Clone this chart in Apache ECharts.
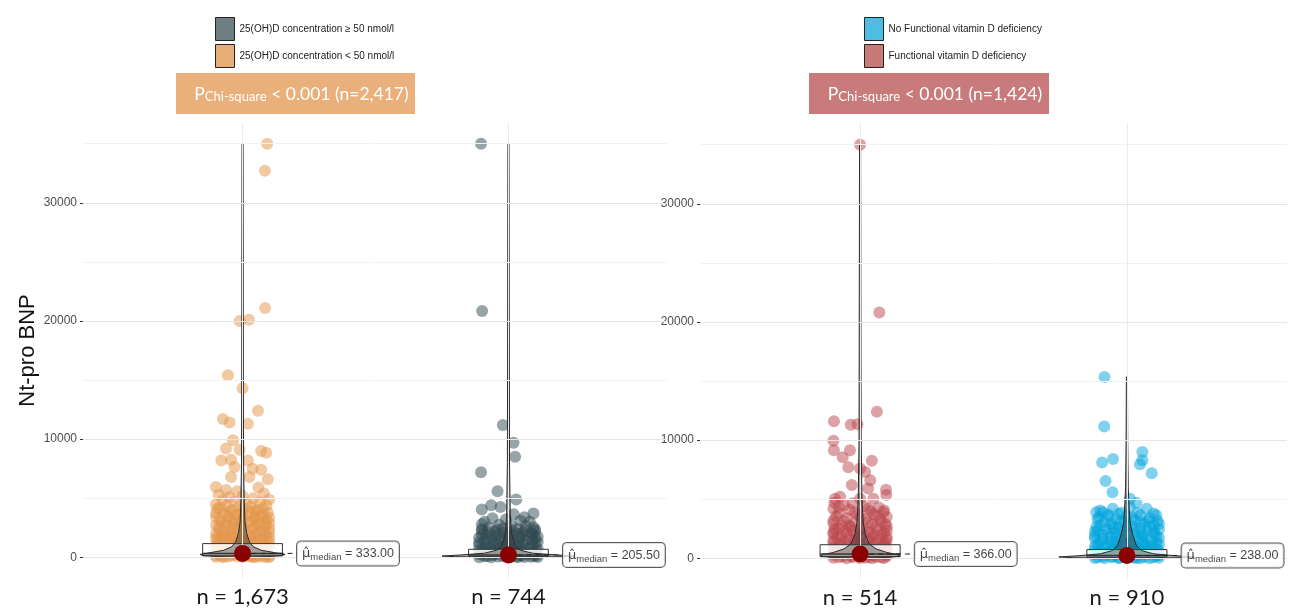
<!DOCTYPE html>
<html><head><meta charset="utf-8">
<script src="https://cdn.jsdelivr.net/npm/echarts@6/dist/echarts.min.js"></script>
<style>html,body{margin:0;padding:0;background:#fff}#c{width:1292px;height:613px}</style>
</head><body><div id="c"></div>
<script>
// ---------------- DATA ----------------
const yTicks = [0, 10000, 20000, 30000];
const yGrid = [0, 5000, 10000, 15000, 20000, 25000, 30000, 35000];
const leftCats = ['n = 1,673', 'n = 744'];
const rightCats = ['n = 514', 'n = 910'];
const leftNames = ['25(OH)D concentration < 50 nmol/l', '25(OH)D concentration \u2265 50 nmol/l'];
const rightNames = ['Functional vitamin D deficiency', 'No Functional vitamin D deficiency'];
const leftP = ['P', 'Chi-square', ' < 0.001 (n=2,417)'];
const rightP = ['P', 'Chi-square', ' < 0.001 (n=1,424)'];

// box stats [Q1, median, Q3, lower whisker, upper whisker]
const boxOrange = [130, 333, 1160, 0, 2700];
const boxGray = [90, 205.5, 680, 0, 1560];
const boxRed = [140, 366, 1150, 0, 2660];
const boxBlue = [100, 238, 740, 0, 1700];

// violin profiles [value, half width (category units)]
const violinOrange = [[0,0.02],[60,0.09],[150,0.15],[250,0.16],[400,0.12],[600,0.07],[900,0.04],[1300,0.026],[2000,0.016],[3000,0.009],[5000,0.006],[8000,0.004],[15000,0.003],[35000,0.002]];
const violinGray = [[0,0.04],[50,0.2],[110,0.25],[200,0.18],[350,0.09],[600,0.045],[1000,0.025],[2000,0.012],[3500,0.007],[8000,0.004],[20000,0.003],[35000,0.002]];
const violinRed = [[0,0.03],[80,0.1],[180,0.15],[300,0.14],[500,0.1],[800,0.06],[1200,0.035],[2000,0.02],[3000,0.012],[5000,0.007],[10000,0.004],[35000,0.002]];
const violinBlue = [[0,0.05],[50,0.2],[120,0.255],[220,0.18],[380,0.1],[650,0.055],[1100,0.035],[2000,0.022],[3000,0.012],[4000,0.009],[6000,0.005],[10000,0.003],[15350,0.002]];

// jittered points [jitter offset, Nt-pro BNP]
const ptsOrange = [
[0.093,35000],[0.084,32700],[0.085,21100],[-0.011,20000],[0.024,20100],[-0.055,15400],[0.0,14300],
[0.058,12400],[-0.074,11700],[-0.049,11400],[0.02,11300],[-0.036,9900],[-0.062,9200],[-0.011,9100],[0.07,9000],[0.089,8850],
[-0.08,8200],[-0.043,8250],[0.02,8200],[-0.03,7650],[0.038,7500],[0.07,7400],[-0.043,6800],[0.026,6800],[0.095,6600],[-0.1,5950],[-0.062,5700],
[0.06,5900],[-0.02,5600],[0.08,5400],[-0.09,5300],[0.0,5200],[-0.05,5100],[0.04,5000],[0.1,4900],[-0.075,4800],[-0.03,4700],[0.065,4650],[0.015,4550],[-0.1,4500],[0.09,4400],
[-0.06,4350],[-0.015,4300],[0.03,4250],[0.075,4150],[-0.095,4100],[-0.04,4000],[0.05,3950],[0.0,3850],[0.095,3800],[-0.07,3700],[-0.025,3600],[0.02,3550],[0.07,3500],[-0.1,3400],[-0.05,3300],[0.045,3250],[0.09,3150],[-0.01,3100],[-0.08,3000],
[0.03,2950],[0.1,2900],[-0.035,2850],[0.06,2800],[-0.1,2700],[-0.065,2650],[0.0,2600],[0.085,2550],[-0.02,2450],[0.04,2400],[-0.085,2350],[-0.045,2250],[0.07,2200],[0.1,2100],[0.015,2050],[-0.1,2000],[-0.055,1950],[0.05,1900],[-0.01,1800],[0.09,1750],[-0.075,1700],[-0.03,1650],[0.03,1600],[0.075,1550],
[-0.095,1450],[-0.05,1400],[0.0,1380],[0.05,1350],[0.1,1300],[-0.07,1200],[-0.025,1150],[0.025,1100],[0.08,1050],[-0.1,950],[-0.045,900],[0.01,850],[0.06,800],[0.095,750],[-0.08,650],[-0.03,600],[0.035,550],[0.075,500],[-0.1,420],[-0.06,380],[-0.01,330],[0.045,300],[0.09,260],[-0.085,200],[-0.04,160],[0.015,130],[0.065,100],[0.1,80],[-0.1,50],[-0.055,40],[0.0,30],[0.05,20],[0.085,10],[-0.075,5],[-0.02,60],[0.03,70],
[-0.085,4200],[0.005,4150],[0.055,4050],[-0.05,3900],[0.035,3800],[-0.1,3750],[0.08,3650],[-0.01,3650],[-0.055,3500],[0.045,3400],[0.1,3350],[-0.085,3250],[0.0,3250],[-0.03,3150],[0.06,3050],[0.02,3000],[-0.06,2900],[0.085,2850],[-0.005,2750],[-0.09,2550],[0.045,2600],[-0.04,2500],[0.1,2450],[0.01,2300],[-0.07,2150],[0.055,2100],[-0.02,2100],[0.085,2000],[-0.09,1850],[0.03,1800],[-0.045,1750],[0.1,1650],[-0.1,1600],[0.0,1550],[0.06,1450],[-0.06,1500],[-0.02,1300],[0.035,1250],[-0.09,1150],[0.075,1150],[-0.05,1050],[0.0,1000],[0.1,950],[-0.07,850],[0.04,700],[-0.01,700],[0.09,600],[-0.1,600],[-0.05,500],[0.01,450],[0.06,400],[-0.03,250],[0.08,180],[0.03,180],[-0.07,100],[-0.1,150],[0.1,20],[0.04,5]
];
const ptsGray = [
[-0.103,35000],[-0.099,20850],[-0.021,11200],[0.019,9700],[0.025,8500],[-0.103,7200],[-0.041,5600],[0.029,4900],[-0.1,4050],[-0.065,4400],[-0.03,4250],[0.094,3700],[0.06,3400],[0.02,3650],[-0.09,3000],[0.094,2550],
[-0.06,3300],[-0.01,3200],[0.045,3100],[0.08,3000],[-0.1,2800],[-0.035,2750],[0.01,2700],[0.065,2650],[-0.075,2500],[-0.02,2450],[0.035,2400],[0.1,2350],[-0.1,2250],[-0.05,2200],[0.0,2150],[0.055,2100],[0.085,2050],
[-0.085,1950],[-0.04,1900],[0.02,1850],[0.07,1800],[0.11,1750],[-0.11,1650],[-0.065,1600],[-0.015,1550],[0.04,1500],[0.09,1450],[-0.09,1350],[-0.045,1300],[0.005,1250],[0.055,1200],[0.1,1150],[-0.11,1050],[-0.07,1000],[-0.02,950],[0.03,900],[0.08,850],[-0.095,750],[-0.05,700],[0.0,650],[0.05,600],[0.105,550],[-0.08,450],[-0.03,400],[0.025,350],[0.075,300],[-0.11,250],[-0.06,200],[-0.01,180],[0.045,150],[0.095,120],[-0.09,80],[-0.04,60],[0.01,40],[0.06,30],[0.11,20],[-0.11,10],[-0.065,5],[0.035,15],[0.085,50],
[-0.1,2400],[-0.04,2350],[0.015,2300],[0.06,2250],[0.1,2200],[-0.075,2100],[-0.015,2050],[0.035,2000],[0.09,1950],[-0.1,1900],[-0.05,1800],[0.0,1750],[0.045,1700],[0.1,1650],[-0.08,1550],[-0.03,1450],[0.02,1400],[0.065,1350],[0.11,1300],[-0.11,1250],[-0.055,1200],[-0.005,1100],[0.04,1050],[0.09,1000],[-0.085,900],[-0.035,850],[0.015,800],[0.06,750],[0.11,700],[-0.11,600],[-0.065,550],[-0.015,500],[0.035,450],[0.085,400],[-0.095,350],[-0.045,300],[0.005,250],[0.055,200],[0.105,150],[-0.02,100],[0.03,80],[-0.08,120]
];
const ptsRed = [
[0.0,35000],[0.072,20800],[0.063,12400],[-0.098,11600],[-0.035,11300],[-0.01,11350],[-0.1,9950],[-0.098,9150],[-0.038,9150],[-0.065,8550],[0.044,8250],[-0.044,7700],[0.0,7600],[0.019,7300],[0.038,6600],[-0.031,6200],[0.097,5800],[0.098,5350],[0.03,5900],[-0.094,5050],[-0.075,5200],[0.0,5050],[0.05,5050],[-0.096,4700],[-0.028,4650],[0.088,3900],
[-0.06,4500],[0.015,4400],[0.07,4300],[-0.1,4200],[-0.04,4100],[0.04,4000],[-0.08,3800],[-0.01,3700],[0.06,3600],[0.1,3500],[-0.05,3400],[0.02,3300],[-0.1,3200],[0.08,3100],[-0.02,3000],[0.045,2900],[-0.07,2800],[0.1,2700],[-0.035,2650],[0.01,2550],
[-0.095,2450],[0.065,2400],[-0.055,2300],[0.03,2250],[0.09,2150],[-0.1,2050],[-0.015,2000],[0.05,1950],[-0.07,1850],[0.1,1800],[0.0,1750],[-0.04,1650],[0.07,1600],[-0.1,1500],[0.03,1450],[-0.02,1350],[0.095,1300],[-0.075,1250],[0.05,1200],[-0.045,1100],[0.0,1050],[0.08,1000],[-0.1,900],[0.025,850],[-0.06,800],[0.1,750],[-0.02,700],[0.055,650],[-0.085,550],[0.015,500],[0.085,450],[-0.04,400],[0.04,350],[-0.1,300],[-0.005,250],[0.1,200],[-0.065,150],[0.06,120],[-0.03,90],[0.02,60],[-0.1,40],[0.09,30],[-0.05,15],[0.045,10],[0.0,5],
[-0.08,4350],[0.03,4200],[0.09,4050],[-0.02,3900],[0.05,3750],[-0.09,3550],[0.0,3450],[0.075,3300],[-0.06,3150],[0.03,3050],[-0.1,2950],[0.095,2900],[-0.04,2750],[0.06,2650],[-0.08,2550],[0.0,2450],[0.1,2350],[-0.03,2350],[-0.1,2200],[0.04,2150],[-0.05,2050],[0.08,1950],[0.0,1900],[-0.085,1750],[0.035,1700],[-0.02,1600],[0.1,1550],[-0.06,1450],[0.06,1400],[-0.1,1300],[0.0,1250],[0.09,1150],[-0.07,1050],[0.04,1050],[-0.02,950],[0.1,900],[-0.09,750],[0.02,700],[0.07,550],[-0.05,600],[-0.1,450],[0.0,400],[0.1,350],[-0.03,200],[0.05,250],[-0.08,80],[0.08,60],[0.03,100]
];
const ptsBlue = [
[-0.084,15350],[-0.085,11150],[0.058,9000],[-0.052,8400],[-0.093,8100],[0.049,7950],[0.058,8300],[0.093,7200],[-0.08,6550],[-0.054,5600],[0.011,5050],[0.011,4350],[-0.1,4050],[-0.053,4200],[0.074,4200],[0.035,4700],
[-0.115,3900],[-0.02,3850],[0.1,3800],[-0.07,3700],[0.05,3650],[0.0,3550],[-0.105,3450],[0.085,3400],[-0.04,3300],[0.03,3250],[0.115,3150],[-0.085,3050],[-0.01,3000],[0.065,2950],[-0.055,2850],[0.1,2800],[0.02,2700],[-0.115,2650],[-0.03,2600],[0.05,2550],
[0.12,2450],[-0.08,2450],[-0.01,2400],[0.075,2350],[-0.12,2250],[-0.045,2200],[0.03,2150],[0.105,2100],[-0.09,2000],[0.0,1950],[0.06,1900],[-0.06,1800],[0.12,1750],[-0.12,1700],[-0.02,1650],[0.045,1600],[0.09,1500],[-0.1,1450],[-0.04,1400],[0.02,1350],[0.11,1300],[-0.075,1200],[0.065,1150],[-0.01,1100],[-0.12,1000],[0.035,1000],[0.1,950],[-0.055,900],[0.0,800],[0.075,750],[-0.1,700],[-0.03,650],[0.05,600],[0.12,550],[-0.08,500],[0.015,450],[0.09,400],[-0.12,350],[-0.045,300],[0.04,260],[0.11,220],[-0.09,180],[-0.01,150],[0.065,120],[-0.06,90],[0.025,60],[0.12,40],[-0.12,30],[-0.03,20],[0.085,10],[-0.085,5],[0.05,15],
[-0.09,3900],[0.04,3850],[-0.03,3750],[0.11,3650],[-0.07,3550],[0.02,3450],[-0.11,3300],[0.08,3200],[-0.02,3150],[0.05,3050],[-0.06,2950],[0.12,2900],[-0.1,2800],[0.0,2750],[0.085,2650],[-0.05,2550],[0.03,2450],[-0.11,2350],[0.1,2250],[-0.025,2250],[0.055,2050],[-0.07,2100],[-0.12,1900],[0.03,1850],[0.11,1850],[-0.04,1750],[0.07,1700],[-0.09,1600],[0.0,1550],[-0.06,1350],[0.06,1350],[0.12,1200],[-0.11,1150],[-0.03,1200],[0.02,1100],[0.08,1050],[-0.08,1000],[-0.035,800],[0.045,850],[0.115,750],[-0.12,700],[0.02,650],[-0.06,600],[0.08,550],[-0.1,450],[-0.015,350],[0.06,350],[0.12,250],[-0.08,300],[0.01,200],[-0.05,150],[0.1,100],[-0.11,100],[0.035,30],[-0.03,50]
];

// ---------------- STYLE ----------------
const C = {
  orange: '#e3964a', gray: '#2f4a52', red: '#bb464c', blue: '#00a3dc',
  legOrange: '#e8ae78', legGray: '#6e7f84', legRed: '#c87a78', legBlue: '#4dbde2',
  pOrange: '#e9b07b', pRed: '#c87b7a'
};
const LABEL_OFF = 0.205;

function gridLines(ax) {
  const data = yGrid.map(v => ({ yAxis: v, lineStyle: { color: (v % 10000 === 0) ? '#e6e6e6' : '#f2f2f2', width: 1, type: 'solid' } }));
  data.push({ xAxis: 1, lineStyle: { color: '#ebebeb', width: 1, type: 'solid' } });
  data.push({ xAxis: 2, lineStyle: { color: '#ebebeb', width: 1, type: 'solid' } });
  return {
    type: 'scatter', xAxisIndex: ax, yAxisIndex: ax, data: [[1, 0]], symbolSize: 0, silent: true, z: 0,
    markLine: { silent: true, symbol: 'none', label: { show: false }, data: data, animation: false }
  };
}
function points(ax, g, name, pts, color) {
  return {
    type: 'scatter', name: name, xAxisIndex: ax, yAxisIndex: ax, z: 2,
    data: pts.map(p => [g + p[0], p[1]]), symbolSize: 12,
    itemStyle: { color: color, opacity: 0.5 }, silent: true
  };
}
function violin(ax, g, prof) {
  return {
    type: 'custom', xAxisIndex: ax, yAxisIndex: ax, z: 4, silent: true, data: [[g, 0]],
    renderItem: function (params, api) {
      const left = prof.map(p => api.coord([g - p[1], p[0]]));
      const right = prof.slice().reverse().map(p => api.coord([g + p[1], p[0]]));
      return { type: 'polygon', shape: { points: left.concat(right) },
        style: { fill: 'rgba(60,60,60,0.45)', stroke: '#2b2b2b', lineWidth: 1 } };
    }
  };
}
function box(ax, g, b) {
  return {
    type: 'custom', xAxisIndex: ax, yAxisIndex: ax, z: 3, silent: true, data: [[g, b[1]]],
    renderItem: function (params, api) {
      const tl = api.coord([g - 0.15, b[2]]), br = api.coord([g + 0.15, b[0]]);
      const ml = api.coord([g - 0.15, b[1]]), mr = api.coord([g + 0.15, b[1]]);
      const wTop = api.coord([g, b[4]]);
      return { type: 'group', children: [
        { type: 'line', shape: { x1: wTop[0], y1: tl[1], x2: wTop[0], y2: wTop[1] }, style: { stroke: '#333', lineWidth: 1 } },
        { type: 'rect', shape: { x: tl[0], y: tl[1], width: br[0] - tl[0], height: br[1] - tl[1] },
          style: { fill: 'rgba(255,255,255,0.85)', stroke: '#333', lineWidth: 1 } },
        { type: 'line', shape: { x1: ml[0], y1: ml[1], x2: mr[0], y2: mr[1] }, style: { stroke: '#333', lineWidth: 1.5 } }
      ] };
    }
  };
}
function medianParts(ax, g, med) {
  return [
    { type: 'line', xAxisIndex: ax, yAxisIndex: ax, z: 5, silent: true, symbol: 'none',
      data: [[g, med], [g + LABEL_OFF, med]], lineStyle: { color: '#222', width: 1, type: [5, 4] } },
    { type: 'scatter', xAxisIndex: ax, yAxisIndex: ax, z: 6, silent: true, symbolSize: 17,
      data: [[g, med]], itemStyle: { color: '#8b0000', opacity: 1 } },
    { type: 'scatter', xAxisIndex: ax, yAxisIndex: ax, z: 7, silent: true, symbolSize: 0,
      data: [[g + LABEL_OFF, med]], itemStyle: { color: 'rgba(0,0,0,0)' },
      label: { show: true, position: 'right', distance: 0,
        formatter: '{mu|\u03bc\u0302}{sub|median}{eq| = ' + med.toFixed(2) + '}',
        backgroundColor: '#fff', borderColor: '#333', borderWidth: 1, borderRadius: 4, padding: [4, 5, 3, 5],
        rich: {
          mu: { fontFamily: 'DejaVu Sans', fontSize: 13, color: '#111' },
          sub: { fontFamily: 'Liberation Sans', fontSize: 9.5, color: '#111', padding: [7, 0, 0, 0] },
          eq: { fontFamily: 'Liberation Sans', fontSize: 12.5, color: '#111' }
        } } }
  ];
}
function xAxis(gi, cats) {
  return {
    type: 'value', gridIndex: gi, min: 0.4, max: 2.6,
    splitLine: { show: false }, axisLine: { show: false },
    axisTick: { show: true, customValues: [1, 2], length: 4, lineStyle: { color: '#333' } },
    axisLabel: { customValues: [1, 2], formatter: v => cats[Math.round(v) - 1], fontFamily: 'Lato', fontSize: 22, color: '#1a1a1a', margin: 8 }
  };
}
function yAxis(gi, withName) {
  const a = {
    type: 'value', gridIndex: gi, min: -1750, max: 36750,
    splitLine: { show: false }, axisLine: { show: false },
    axisTick: { show: true, customValues: yTicks, length: 3, lineStyle: { color: '#333' } },
    axisLabel: { customValues: yTicks, formatter: v => String(v), fontFamily: 'Liberation Sans', fontSize: 12, color: '#4d4d4d', margin: 6 }
  };
  if (withName) {
    Object.assign(a, { name: 'Nt-pro BNP', nameLocation: 'middle', nameRotate: 90, nameGap: 44,
      nameTextStyle: { fontFamily: 'Liberation Sans', fontSize: 22, color: '#111' } });
  }
  return a;
}
function legend(left, items) {
  return {
    left: left, top: 12, orient: 'vertical', icon: 'rect', itemWidth: 19, itemHeight: 23, itemGap: 3,
    selectedMode: false,
    textStyle: { fontFamily: 'Liberation Sans', fontSize: 10, color: '#222' },
    data: items.map(it => ({ name: it[0], itemStyle: { color: it[1], opacity: 1, borderColor: '#222', borderWidth: 1 } }))
  };
}
function pBox(x, w, color, parts) {
  return [
    { type: 'rect', left: x, top: 73, shape: { width: w, height: 41 }, style: { fill: color }, silent: true },
    { type: 'text', x: x + w / 2 + 6, y: 94, silent: true,
      style: { text: '{p|' + parts[0] + '}{s|' + parts[1] + '}{m|' + parts[2] + '}', align: 'center', verticalAlign: 'middle',
        rich: {
          p: { fontFamily: 'Lato', fontSize: 17.5, fill: '#fff' },
          s: { fontFamily: 'Lato', fontSize: 13, fill: '#fff', padding: [5, 0, 0, 0] },
          m: { fontFamily: 'Lato', fontSize: 17.5, fill: '#fff' }
        } } }
  ];
}

const series = [
  gridLines(0), gridLines(1),
  points(0, 1, leftNames[0], ptsOrange, C.orange),
  points(0, 2, leftNames[1], ptsGray, C.gray),
  points(1, 1, rightNames[0], ptsRed, C.red),
  points(1, 2, rightNames[1], ptsBlue, C.blue),
  box(0, 1, boxOrange), box(0, 2, boxGray), box(1, 1, boxRed), box(1, 2, boxBlue),
  violin(0, 1, violinOrange), violin(0, 2, violinGray), violin(1, 1, violinRed), violin(1, 2, violinBlue),
  ...medianParts(0, 1, boxOrange[1]), ...medianParts(0, 2, boxGray[1]),
  ...medianParts(1, 1, boxRed[1]), ...medianParts(1, 2, boxBlue[1])
];

const chart = echarts.init(document.getElementById('c'), null, { renderer: 'canvas' });
chart.setOption({
  animation: false,
  backgroundColor: '#fff',
  grid: [
    { left: 83, top: 123, width: 585, height: 455 },
    { left: 700, top: 124, width: 587, height: 455 }
  ],
  xAxis: [xAxis(0, leftCats), xAxis(1, rightCats)],
  yAxis: [yAxis(0, true), yAxis(1, false)],
  legend: [
    legend(210, [[leftNames[1], C.legGray], [leftNames[0], C.legOrange]]),
    legend(859, [[rightNames[1], C.legBlue], [rightNames[0], C.legRed]])
  ],
  graphic: [...pBox(176, 239, C.pOrange, leftP), ...pBox(809, 240, C.pRed, rightP)],
  series: series
});
</script></body></html>
